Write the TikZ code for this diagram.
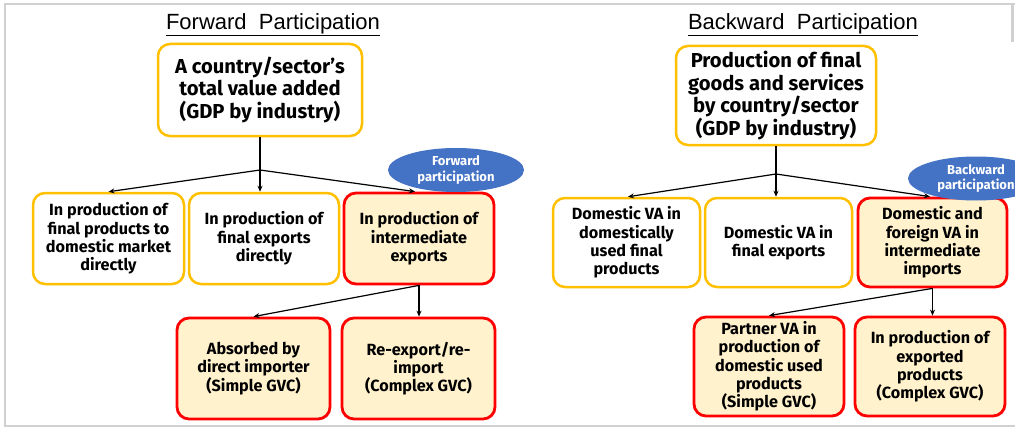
\documentclass[tikz,border=0pt]{standalone}
\usepackage{fontspec}
\setmainfont{Fira Sans}
\newfontfamily\titlefont{Liberation Sans}
\usetikzlibrary{arrows.meta,shapes.geometric,calc}
\definecolor{ybord}{HTML}{FFC000}
\definecolor{rbord}{HTML}{FF0000}
\definecolor{lfill}{HTML}{FFF2CC}
\definecolor{eblue}{HTML}{4472C4}
\definecolor{frame}{HTML}{D0D0D0}
\tikzset{
  topbox/.style={draw=ybord, line width=2.5pt, fill=white, rounded corners=12pt, inner sep=0pt,
    align=center, font=\bfseries\fontsize{20.2}{22.8}\selectfont},
  ybox/.style={draw=ybord, line width=2.5pt, fill=white, rounded corners=12pt, inner sep=0pt,
    align=center, font=\bfseries\fontsize{16.2}{18.3}\selectfont},
  rbox/.style={draw=rbord, line width=2.8pt, fill=lfill, rounded corners=12pt, inner sep=0pt,
    align=center, font=\bfseries\fontsize{16.2}{18.3}\selectfont},
  tag/.style={ellipse, fill=eblue, text=white, inner sep=0pt, minimum width=136pt, minimum height=44pt,
    align=center, font=\bfseries\fontsize{13}{15.5}\selectfont},
  ttl/.style={font=\titlefont\fontsize{22}{24}\selectfont, inner sep=0pt},
  arr/.style={line width=1.2pt, -{Stealth[length=6pt,width=5pt]}},
  ln/.style={line width=1.2pt}
}
\begin{document}
\begin{tikzpicture}[x=1pt,y=-1pt]
\useasboundingbox (0,0) rectangle (1015,428);
\clip (0,0) rectangle (1015,428);
\fill[white] (0,0) rectangle (1015,428);
% frame
\draw[frame, line width=2.5pt] (1015,4) -- (5,4) -- (5,426) -- (1015,426);
\draw[frame, line width=2.5pt] (1012.5,4) -- (1012.5,42);

% titles
\node[ttl] (tf) at (273,25) {\underline{Forward\ \ Participation}};
\node[ttl] (tb) at (803,25) {\underline{Backward\ \ Participation}};

% forward side
\node[topbox, minimum width=204pt, minimum height=92pt] (F) at (260,90)
  {A country/sector’s\\total value added\\(GDP by industry)};
\node[ybox, minimum width=151pt, minimum height=91pt] (F1) at (108.5,238.5)
  {In production of\\final products to\\domestic market\\directly};
\node[ybox, minimum width=150pt, minimum height=91pt] (F2) at (264,238.5)
  {In production of\\final exports\\directly};
\node[rbox, minimum width=150pt, minimum height=91pt] (F3) at (419,238.5)
  {In production of\\intermediate\\exports};
\node[rbox, minimum width=153pt, minimum height=101pt] (F4) at (253.5,368.5)
  {Absorbed by\\direct importer\\(Simple GVC)};
\node[rbox, minimum width=153pt, minimum height=101pt] (F5) at (418.5,368.5)
  {Re-export/re-\\import\\(Complex GVC)};
\coordinate (jF) at (260,170);
\draw[ln] (F.south) -- (jF);
\draw[arr] (jF) -- (F1.north);
\draw[arr] (jF) -- (jF |- F2.north);
\draw[arr] (jF) -- ($(F3.north)+(-4,0)$);
\draw[arr] (F3.south) -- (F4.north);
\draw[arr] (F3.south) -- (F3.south |- F5.north);
\node[tag] (tF) at (456,170) {Forward\\participation};

% backward side
\node[topbox, minimum width=200pt, minimum height=99pt] (B) at (776,95.5)
  {Production of final\\goods and services\\by country/sector\\(GDP by industry)};
\node[ybox, minimum width=147pt, minimum height=89pt] (B1) at (626.5,242.5)
  {Domestic VA in\\domestically\\used final\\products};
\node[ybox, minimum width=147pt, minimum height=89pt] (B2) at (778.5,242.5)
  {Domestic VA in\\final exports};
\node[rbox, minimum width=149pt, minimum height=89pt] (B3) at (932.5,242.5)
  {Domestic and\\foreign VA in\\intermediate\\imports};
\node[rbox, minimum width=150pt, minimum height=99pt] (B4) at (769,366.5)
  {Partner VA in\\production of\\domestic used\\products\\(Simple GVC)};
\node[rbox, minimum width=150pt, minimum height=99pt] (B5) at (930,366.5)
  {In production of\\exported\\products\\(Complex GVC)};
\coordinate (jB) at (776,174);
\draw[ln] (B.south) -- (jB);
\draw[arr] (jB) -- ($(B1.north)+(1.5,0)$);
\draw[arr] (jB) -- (jB |- B2.north);
\draw[arr] (jB) -- ($(B3.north)+(-2.5,0)$);
\draw[arr] (B3.south) -- (B4.north);
\draw[arr] (B3.south) -- (B3.south |- B5.north);
\node[tag] (tB) at (976,178.5) {Backward\\participation};
\end{tikzpicture}
\end{document}
